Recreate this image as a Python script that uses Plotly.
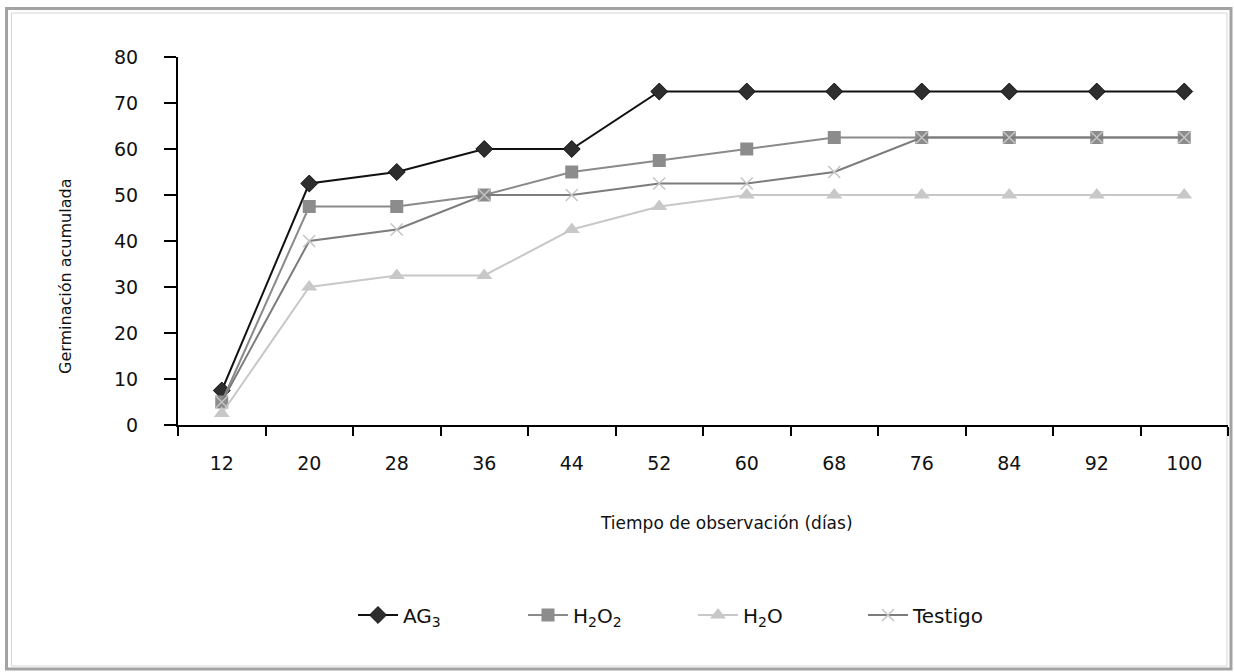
import plotly.graph_objects as go

# ---- data ----
days = ["12", "20", "28", "36", "44", "52", "60", "68", "76", "84", "92", "100"]
ag3 = [7.5, 52.5, 55, 60, 60, 72.5, 72.5, 72.5, 72.5, 72.5, 72.5, 72.5]
h2o2 = [5, 47.5, 47.5, 50, 55, 57.5, 60, 62.5, 62.5, 62.5, 62.5, 62.5]
h2o = [2.5, 30, 32.5, 32.5, 42.5, 47.5, 50, 50, 50, 50, 50, 50]
testigo = [5, 40, 42.5, 50, 50, 52.5, 52.5, 55, 62.5, 62.5, 62.5, 62.5]
y_ticks = [0, 10, 20, 30, 40, 50, 60, 70, 80]

W, H = 1234, 672
L, R, T, B = 178, 1228, 57, 425  # plot-area pixel box


def px(x):
    return (x - L) / (R - L)


def py(y):
    return (B - y) / (B - T)


FONT = "DejaVu Sans, Liberation Sans, sans-serif"

fig = go.Figure()
fig.add_trace(go.Scatter(
    x=days, y=ag3, name="AG<sub>3</sub>", mode="lines+markers",
    line=dict(color="#111111", width=2),
    marker=dict(symbol="diamond", size=13, color="#2e2e2e", line=dict(color="#111111", width=1)),
))
fig.add_trace(go.Scatter(
    x=days, y=h2o2, name="H<sub>2</sub>O<sub>2</sub>", mode="lines+markers",
    line=dict(color="#8a8a8a", width=2),
    marker=dict(symbol="square", size=13, color="#8c8c8c"),
))
fig.add_trace(go.Scatter(
    x=days, y=h2o, name="H<sub>2</sub>O", mode="lines+markers",
    line=dict(color="#c8c8c8", width=2),
    marker=dict(symbol="triangle-up", size=14, color="#c8c8c8"),
))
fig.add_trace(go.Scatter(
    x=days, y=testigo, name="Testigo", mode="lines+markers",
    line=dict(color="#7c7c7c", width=2),
    marker=dict(symbol="x-thin-open", size=12, color="#c4c4c4", line=dict(color="#c4c4c4", width=1.5)),
))

shapes = [
    # outer frame
    dict(type="rect", xref="paper", yref="paper", x0=px(6.5), x1=px(1231), y0=py(669), y1=py(8.5),
         line=dict(color="#a3a3a3", width=3), layer="below"),
    # inner frame
    dict(type="rect", xref="paper", yref="paper", x0=px(11.5), x1=px(1227), y0=py(666), y1=py(13),
         line=dict(color="#d6d6d6", width=1), layer="below"),
]

annotations = [
    dict(text="Tiempo de observación (días)", xref="paper", yref="paper", x=px(726), y=py(523),
         showarrow=False, font=dict(family=FONT, size=17, color="#111111"), xanchor="center", yanchor="middle"),
    dict(text="Germinación acumulada", xref="paper", yref="paper", x=px(65), y=py(277), textangle=-90,
         showarrow=False, font=dict(family=FONT, size=16, color="#111111"), xanchor="center", yanchor="middle"),
]

fig.update_layout(
    width=W, height=H,
    margin=dict(l=L, r=W - R, t=T, b=H - B),
    paper_bgcolor="white", plot_bgcolor="white",
    font=dict(family=FONT, size=19, color="#111111"),
    showlegend=True,
    legend=dict(orientation="h", x=px(693), xanchor="center", y=py(615), yanchor="middle",
                font=dict(family=FONT, size=20, color="#111111"), bgcolor="rgba(0,0,0,0)",
                itemwidth=40, entrywidth=115, entrywidthmode="pixels", tracegroupgap=0),
    shapes=shapes,
    annotations=annotations,
)
fig.update_xaxes(
    type="category", range=[-0.5, len(days) - 0.5], showgrid=False, zeroline=False,
    showline=True, linecolor="#000000", linewidth=2,
    ticks="outside", tickson="boundaries", ticklen=9, tickwidth=1.5, tickcolor="#000000",
    ticklabelstandoff=20, tickfont=dict(family=FONT, size=19, color="#111111"),
)
fig.update_yaxes(
    range=[0, 80], tickvals=y_ticks, showgrid=False, zeroline=False,
    showline=True, linecolor="#000000", linewidth=2,
    ticks="outside", ticklen=12, tickwidth=1.5, tickcolor="#000000",
    ticklabelstandoff=22, tickfont=dict(family=FONT, size=19, color="#111111"),
)

fig.write_html("out.html")
